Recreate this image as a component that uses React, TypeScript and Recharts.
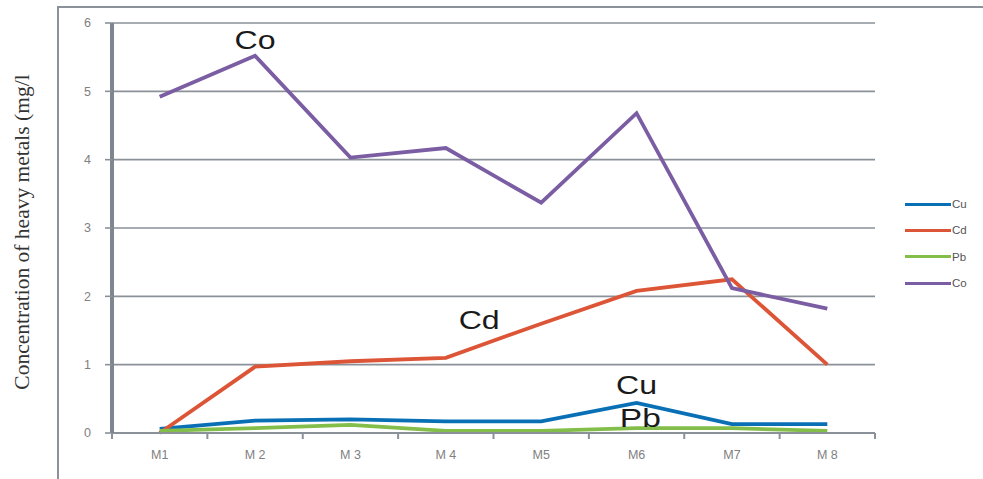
import React from 'react';
import { LineChart, Line, XAxis, YAxis, CartesianGrid, ReferenceDot } from 'recharts';

const categories = ['M1', 'M 2', 'M 3', 'M 4', 'M5', 'M6', 'M7', 'M 8'];
const cu = [0.06, 0.18, 0.2, 0.17, 0.17, 0.44, 0.13, 0.13];
const cd = [0, 0.97, 1.05, 1.1, 1.6, 2.08, 2.25, 1.0];
const pb = [0.03, 0.07, 0.12, 0.03, 0.03, 0.07, 0.07, 0.03];
const co = [4.92, 5.52, 4.03, 4.17, 3.37, 4.68, 2.12, 1.82];
const yTicks = [0, 1, 2, 3, 4, 5, 6];
const seriesNames = ['Cu', 'Cd', 'Pb', 'Co'];
const seriesColors = ['#0A70B6', '#DD5537', '#83BE4B', '#7A5DA2'];
const annotations = [
  { text: 'Co', x: 2, y: 5.75 },
  { text: 'Cd', x: 4.35, y: 1.65 },
  { text: 'Cu', x: 6.0, y: 0.7 },
  { text: 'Pb', x: 6.04, y: 0.22 },
];

const data = categories.map((c, i) => ({ x: i + 1, name: c, Cu: cu[i], Cd: cd[i], Pb: pb[i], Co: co[i] }));
const xTicks: number[] = [];
for (let i = 0; i <= categories.length; i++) {
  xTicks.push(i + 0.5);
  if (i < categories.length) xTicks.push(i + 1);
}

const GRAY = '#8A9199';

const XTick = (props: any) => {
  const { x, y, payload } = props;
  const v = payload.value;
  if (Number.isInteger(v)) {
    return (
      <text x={x} y={y} dy={18} textAnchor="middle" fontSize={12.5} fill="#808080" fontFamily="'Liberation Sans', Arial, sans-serif">
        {categories[v - 1]}
      </text>
    );
  }
  return <line x1={x} x2={x} y1={y - 8} y2={y - 2} stroke={GRAY} strokeWidth={2} />;
};

const YLabel = () => (
  <text
    x={22}
    y={232}
    transform="rotate(-90 22 232)"
    textAnchor="middle"
    dominantBaseline="central"
    fontSize={21.5}
    fill="#333"
    fontFamily="'Liberation Serif', 'Times New Roman', serif"
  >
    Concentration of heavy metals (mg/l
  </text>
);

const AnnLabel = (text: string) => (props: any) => {
  const { viewBox } = props;
  const cx = viewBox.x + (viewBox.width || 0) / 2;
  const cy = viewBox.y + (viewBox.height || 0) / 2;
  return (
    <text
      x={cx}
      y={cy}
      textAnchor="middle"
      dominantBaseline="central"
      fontSize={25}
      fill="#1a1a1a"
      fontFamily="'Liberation Sans', Arial, sans-serif"
      textLength={41}
      lengthAdjust="spacingAndGlyphs"
    >
      {text}
    </text>
  );
};

export default function App() {
  return (
    <div style={{ position: 'absolute', left: 0, top: 0, width: 983, height: 479, background: '#fff', overflow: 'hidden' }}>
      <div
        style={{
          position: 'absolute',
          left: 57,
          top: 6,
          width: 1000,
          height: 600,
          borderLeft: `2px solid ${GRAY}`,
          borderTop: `2px solid ${GRAY}`,
        }}
      />
      <div style={{ position: 'absolute', left: 0, top: 0 }}>
        <LineChart width={983} height={479} data={data} margin={{ top: 23, right: 108, left: 0, bottom: 16 }}>
          <CartesianGrid horizontal vertical={false} stroke={GRAY} strokeWidth={1.6} />
          <XAxis
            dataKey="x"
            type="number"
            domain={[0.5, 8.5]}
            ticks={xTicks}
            interval={0}
            tick={<XTick />}
            tickLine={false}
            axisLine={{ stroke: GRAY, strokeWidth: 2 }}
            height={30}
            allowDecimals
          />
          <YAxis
            domain={[0, 6]}
            ticks={yTicks}
            width={112}
            tickSize={7}
            tickMargin={14}
            tickLine={{ stroke: GRAY, strokeWidth: 1.6 }}
            axisLine={{ stroke: '#7E868F', strokeWidth: 4 }}
            tick={{ fontSize: 12.5, fill: '#808080', fontFamily: "'Liberation Sans', Arial, sans-serif" }}
            label={<YLabel />}
          />
          {seriesNames.map((n, i) => (
            <Line
              key={n}
              type="linear"
              dataKey={n}
              stroke={seriesColors[i]}
              strokeWidth={3.8}
              dot={false}
              activeDot={false}
              isAnimationActive={false}
            />
          ))}
          {annotations.map((a) => (
            <ReferenceDot key={a.text} x={a.x} y={a.y} r={0} stroke="none" fill="none" label={AnnLabel(a.text)} />
          ))}
        </LineChart>
      </div>
      <div
        style={{
          position: 'absolute',
          left: 905,
          top: 191,
          fontFamily: "'Liberation Sans', Arial, sans-serif",
          fontSize: 11.5,
          color: '#555',
        }}
      >
        {seriesNames.map((n, i) => (
          <div key={n} style={{ display: 'flex', alignItems: 'center', height: 26.3 }}>
            <div style={{ width: 46, height: 3, background: seriesColors[i], marginRight: 1 }} />
            <span>{n}</span>
          </div>
        ))}
      </div>
    </div>
  );
}
